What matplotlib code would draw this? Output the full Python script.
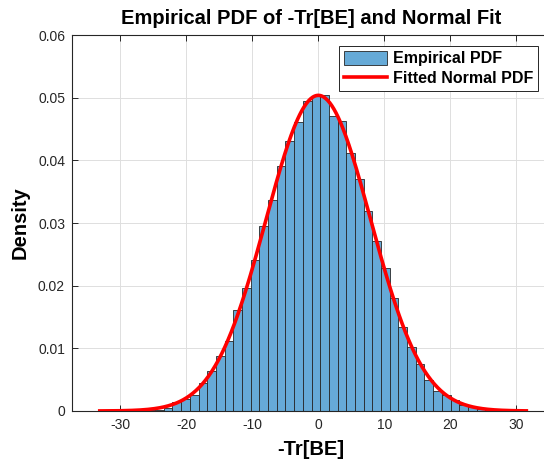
import numpy as np
import matplotlib.pyplot as plt

plt.rcParams['font.family'] = ['Liberation Sans', 'DejaVu Sans']
plt.rcParams['axes.unicode_minus'] = False

# histogram (pdf normalised)
first_edge = -27.35
bin_width = 1.316
density = [0.0001, 0.0001, 0.0002, 0.0004, 0.0014, 0.0019, 0.0026, 0.0044,
           0.0064, 0.0087, 0.0112, 0.0161, 0.0196, 0.0241, 0.0296, 0.0336,
           0.0391, 0.0431, 0.0461, 0.0495, 0.0502, 0.0505, 0.0470, 0.0463,
           0.0411, 0.0370, 0.0319, 0.0271, 0.0228, 0.0181, 0.0134, 0.0102,
           0.0075, 0.0049, 0.0032, 0.0025, 0.0017, 0.0010, 0.0006, 0.0003,
           0.0001]

# fitted normal
mu = 0.0
sigma = 7.92
data_min, data_max = -33.1, 31.5

xticks = [-30, -20, -10, 0, 10, 20, 30]
yticks = [0, 0.01, 0.02, 0.03, 0.04, 0.05, 0.06]

fig = plt.figure(figsize=(5.44, 4.61), dpi=100)
ax = fig.add_axes([0.1324, 0.1085, 0.8776, 0.8155])

left_edges = first_edge + bin_width * np.arange(len(density))
bars = ax.bar(left_edges, density, width=bin_width, align='edge',
              color='#66aad7', edgecolor='#262626', linewidth=0.6,
              label='Empirical PDF', zorder=2)

xs = np.linspace(data_min, data_max, 400)
pdf = np.exp(-(xs - mu) ** 2 / (2 * sigma ** 2)) / (sigma * np.sqrt(2 * np.pi))
line, = ax.plot(xs, pdf, color='red', linewidth=2.6,
                label='Fitted Normal PDF', zorder=3)

ax.set_xlim(-37.3, 35.0)
ax.set_ylim(0, 0.06)
ax.set_xticks(xticks)
ax.set_yticks(yticks)
ax.set_yticklabels(['0', '0.01', '0.02', '0.03', '0.04', '0.05', '0.06'])
ax.grid(True, color='#dedede', linewidth=0.7, zorder=0)
ax.set_axisbelow(True)
ax.tick_params(direction='in', length=4, width=0.7, colors='#262626',
               labelsize=10, top=True, right=False, pad=5)
for s in ax.spines.values():
    s.set_color('#262626')
    s.set_linewidth(0.8)
ax.spines['right'].set_visible(False)

ax.set_title('Empirical PDF of -Tr[BE] and Normal Fit', fontsize=14.5,
             fontweight='bold', pad=8)
ax.set_xlabel('-Tr[BE]', fontsize=14.5, fontweight='bold', labelpad=6)
ax.set_ylabel('Density', fontsize=14.5, fontweight='bold', labelpad=6)

leg = ax.legend([bars, line], ['Empirical PDF', 'Fitted Normal PDF'],
                loc='upper right', bbox_to_anchor=(538 / 544, 1 - 46 / 461),
                bbox_transform=fig.transFigure, fancybox=False,
                edgecolor='#262626', framealpha=1, borderpad=0.3,
                handlelength=2.7, handleheight=1.0, handletextpad=0.35,
                labelspacing=0.25, borderaxespad=0,
                prop={'size': 11.5, 'weight': 'bold'})
leg.get_frame().set_linewidth(0.7)

fig.savefig('out.png', dpi=100)
